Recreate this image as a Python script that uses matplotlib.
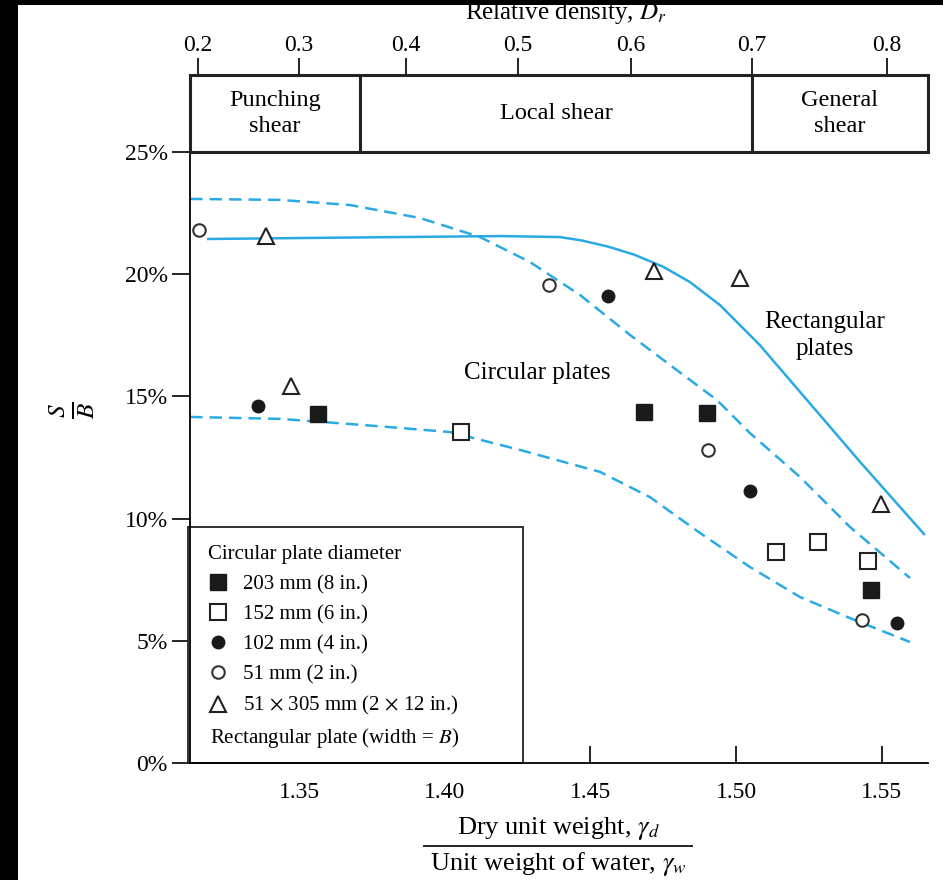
import matplotlib
matplotlib.use("Agg")
import matplotlib.pyplot as plt
from matplotlib.patches import Rectangle
from matplotlib.lines import Line2D

plt.rcParams['font.family'] = ['Liberation Serif', 'DejaVu Serif']
plt.rcParams['mathtext.fontset'] = 'stix'

# ---- data (x = dry unit weight / unit weight of water, y = S/B in %) ----
sq_filled_x = [1.3565, 1.4684, 1.4900, 1.5462]
sq_filled_y = [14.28, 14.36, 14.32, 7.08]
sq_open_x = [1.4056, 1.5136, 1.5280, 1.5452]
sq_open_y = [13.54, 8.63, 9.04, 8.27]
circ_filled_x = [1.3359, 1.4560, 1.5047, 1.5551]
circ_filled_y = [14.61, 19.10, 11.13, 5.73]
circ_open_x = [1.3157, 1.4358, 1.4903, 1.5431]
circ_open_y = [21.80, 19.56, 12.81, 5.85]
tri_x = [1.3387, 1.3473, 1.4718, 1.5013, 1.5497]
tri_y = [21.56, 15.43, 20.13, 19.84, 10.60]

rect_curve_x = [1.3184, 1.3503, 1.3846, 1.4190, 1.4395, 1.4470, 1.4560, 1.4650,
                1.4750, 1.4841, 1.4944, 1.5081, 1.5243, 1.5425, 1.5647]
rect_curve_y = [21.44, 21.48, 21.52, 21.56, 21.52, 21.38, 21.13, 20.80,
                20.30, 19.68, 18.74, 17.10, 14.85, 12.32, 9.33]
circ_upper_x = [1.3126, 1.3435, 1.3675, 1.3915, 1.4121, 1.4292, 1.4464, 1.4636,
                1.4807, 1.4934, 1.5047, 1.5219, 1.5390, 1.5596]
circ_upper_y = [23.08, 23.04, 22.83, 22.30, 21.52, 20.50, 19.15, 17.51,
                15.98, 14.85, 13.50, 11.70, 9.66, 7.57]
circ_lower_x = [1.3126, 1.3435, 1.3675, 1.3846, 1.4018, 1.4258, 1.4533, 1.4704,
                1.4876, 1.5047, 1.5219, 1.5390, 1.5596]
circ_lower_y = [14.16, 14.08, 13.87, 13.71, 13.54, 12.81, 11.91, 10.88,
                9.41, 8.02, 6.79, 5.93, 4.95]

x_ticks = [1.35, 1.40, 1.45, 1.50, 1.55]
x_tick_labels = ['1.35', '1.40', '1.45', '1.50', '1.55']
y_ticks = [0, 5, 10, 15, 20, 25]
y_tick_labels = ['0%', '5%', '10%', '15%', '20%', '25%']
dr_labels = ['0.2', '0.3', '0.4', '0.5', '0.6', '0.7', '0.8']
dr_positions = [1.3153, 1.3500, 1.3867, 1.4251, 1.4639, 1.5054, 1.5517]
zone_bounds = [1.3126, 1.3709, 1.5054, 1.5658]
zone_names = ['Punching\nshear', 'Local shear', 'General\nshear']

legend_labels = ['203 mm (8 in.)', '152 mm (6 in.)', '102 mm (4 in.)',
                 '51 mm (2 in.)', r'51 $\times$ 305 mm (2 $\times$ 12 in.)']

XMIN, XMAX = 1.3126, 1.5658
BLUE = '#2aaae4'
INK = '#222222'

fig = plt.figure(figsize=(9.43, 8.8), dpi=100, facecolor='black')
fig.patches.append(Rectangle((18 / 943, 0), 1 - 18 / 943, 1 - 5 / 880,
                             transform=fig.transFigure, facecolor='white',
                             edgecolor='none', zorder=-10))

W, H = 943, 880
def fx(px):
    return px / W
def fy(py):
    return 1 - py / H

ax = fig.add_axes([fx(190), fy(763), fx(928) - fx(190), fy(152) - fy(763)])
ax.set_facecolor('white')
ax.set_xlim(XMIN, XMAX)
ax.set_ylim(0, 25)
for s in ['top', 'right']:
    ax.spines[s].set_visible(False)
ax.spines['left'].set_linewidth(1.3)
ax.spines['bottom'].set_linewidth(1.3)
ax.set_xticks(x_ticks)
ax.set_xticklabels(x_tick_labels)
ax.set_yticks(y_ticks)
ax.set_yticklabels(y_tick_labels)
ax.tick_params(axis='x', direction='in', length=12, width=1.2, labelsize=17, pad=14)
ax.tick_params(axis='y', direction='out', length=13, width=1.2, labelsize=17, pad=3)

# curves
ax.plot(rect_curve_x, rect_curve_y, color=BLUE, lw=1.8, solid_capstyle='butt')
ax.plot(circ_upper_x, circ_upper_y, color=BLUE, lw=1.8, dashes=(5, 2.8))
ax.plot(circ_lower_x, circ_lower_y, color=BLUE, lw=1.8, dashes=(5, 2.8))

# points
h1, = ax.plot(sq_filled_x, sq_filled_y, ls='none', marker='s', ms=11, mfc='#1a1a1a', mec='#1a1a1a', mew=1.0)
h2, = ax.plot(sq_open_x, sq_open_y, ls='none', marker='s', ms=11, mfc='white', mec=INK, mew=1.5)
h3, = ax.plot(circ_filled_x, circ_filled_y, ls='none', marker='o', ms=9, mfc='#1a1a1a', mec='#1a1a1a', mew=1.0)
h4, = ax.plot(circ_open_x, circ_open_y, ls='none', marker='o', ms=9, mfc='white', mec='#333333', mew=1.5)
h5, = ax.plot(tri_x, tri_y, ls='none', marker='^', ms=12, mfc='white', mec=INK, mew=1.5)

# in-plot labels
ax.text(1.4316, 15.96, 'Circular plates', fontsize=18, ha='center', va='center')
ax.text(1.5305, 17.51, 'Rectangular\nplates', fontsize=18, ha='center', va='center',
        linespacing=1.3)

# legend box (below axis artists so ticks show over it)
ax.add_patch(Rectangle((-0.003, 0), (523 - 188) / 738, (763 - 527) / 611,
                       transform=ax.transAxes, facecolor='white', edgecolor=INK,
                       lw=1.3, zorder=2.2, clip_on=False))
leg = ax.legend([h1, h2, h3, h4, h5], legend_labels, title='Circular plate diameter',
                loc='upper left', bbox_to_anchor=((208 - 190) / 738, (763 - 545) / 611),
                frameon=False, fontsize=15, title_fontsize=15, alignment='left',
                handlelength=1.0, handletextpad=0.7, labelspacing=0.5,
                borderpad=0, borderaxespad=0)
leg.set_zorder(6)
ax.text((210 - 190) / 738, (763 - 738) / 611, r'Rectangular plate (width = $B$)',
        transform=ax.transAxes, fontsize=15, ha='left', va='center', zorder=7)

# y label S/B
fig.text(fx(72), fy(410), r'$\frac{S}{B}$', rotation=90, fontsize=26,
         ha='center', va='center')

# x label (fraction)
fig.text(fx(558), fy(828), r'Dry unit weight, $\gamma_d$', fontsize=19,
         ha='center', va='center')
fig.text(fx(558), fy(864), r'Unit weight of water, $\gamma_w$', fontsize=19,
         ha='center', va='center')
fig.add_artist(Line2D([fx(424), fx(692)], [fy(846), fy(846)], color=INK, lw=1.4,
                      transform=fig.transFigure))

# top zone box
axt = fig.add_axes([fx(190), fy(152), fx(928) - fx(190), fy(75) - fy(152)])
axt.set_xlim(XMIN, XMAX)
axt.set_ylim(0, 1)
for s in axt.spines.values():
    s.set_linewidth(2.2)
    s.set_color(INK)
axt.set_yticks([])
axt.xaxis.tick_top()
axt.set_xticks(dr_positions)
axt.set_xticklabels(dr_labels)
axt.tick_params(axis='x', direction='out', length=12, width=1.2, labelsize=17, pad=2,
                bottom=False, labelbottom=False)
fig.text(fx(566), fy(13), r'Relative density, $D_r$', fontsize=18,
         ha='center', va='center')
for b in zone_bounds[1:-1]:
    axt.axvline(b, color=INK, lw=2.2)
for i, name in enumerate(zone_names):
    axt.text((zone_bounds[i] + zone_bounds[i + 1]) / 2, 0.5, name, fontsize=17.5,
             ha='center', va='center', linespacing=1.35)

fig.savefig('out.png', dpi=100, facecolor=fig.get_facecolor())
